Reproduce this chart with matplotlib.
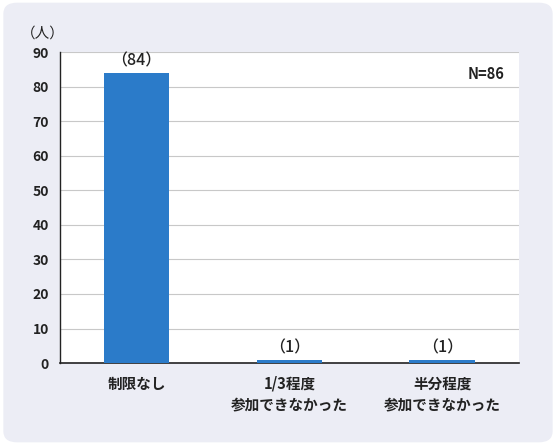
import matplotlib.pyplot as plt
from matplotlib.patches import FancyBboxPatch

plt.rcParams['font.family'] = ['Noto Sans CJK JP', 'DejaVu Sans']

categories = ["制限なし", "1/3程度\n参加できなかった", "半分程度\n参加できなかった"]
counts = [84, 1, 1]
yticks = [0, 10, 20, 30, 40, 50, 60, 70, 80, 90]

fig = plt.figure(figsize=(5.56, 4.45), dpi=100)
fig.patch.set_facecolor("white")

# rounded grey panel behind the chart
panel = FancyBboxPatch((0.006, 0.006), 0.988, 0.988, boxstyle="round,pad=0,rounding_size=0.025",
                       transform=fig.transFigure, facecolor="#ecedf5", edgecolor="none", zorder=-1)
fig.patches.append(panel)

ax = fig.add_axes([0.108, 0.184, 0.825, 0.699])
ax.set_facecolor("white")

x = range(len(categories))
bars = ax.bar(x, counts, width=0.43, color="#2b7bc9", zorder=3)

for xi, v in zip(x, counts):
    ax.text(xi, v + 1.0, f"（{v}）", ha="center", va="bottom", fontsize=11.5,
            fontweight="medium", color="#222222")

ax.set_ylim(0, 90)
ax.set_xlim(-0.5, 2.5)
ax.set_yticks(yticks)
ax.set_yticklabels([str(t) for t in yticks], fontsize=10, fontweight="bold", color="#222222")
ax.set_xticks(list(x))
ax.set_xticklabels(categories, fontsize=10.5, fontweight="bold", color="#222222", linespacing=1.4)
ax.tick_params(axis="both", length=0)
ax.tick_params(axis="y", pad=8)
ax.tick_params(axis="x", pad=9)

ax.grid(axis="y", color="#c8c8c8", linewidth=0.8, zorder=0)
for side in ["top", "right"]:
    ax.spines[side].set_visible(False)
ax.spines["left"].set_color("#222222")
ax.spines["bottom"].set_color("#222222")
ax.spines["left"].set_linewidth(1)
ax.spines["bottom"].set_linewidth(1.2)

ax.text(0.97, 0.93, "N=86", transform=ax.transAxes, ha="right", va="center",
        fontsize=10.5, fontweight="bold", color="#222222")
fig.text(0.077, 0.925, "（人）", ha="center", va="center", fontsize=10.5, color="#222222")

fig.savefig("out.png", dpi=100)
